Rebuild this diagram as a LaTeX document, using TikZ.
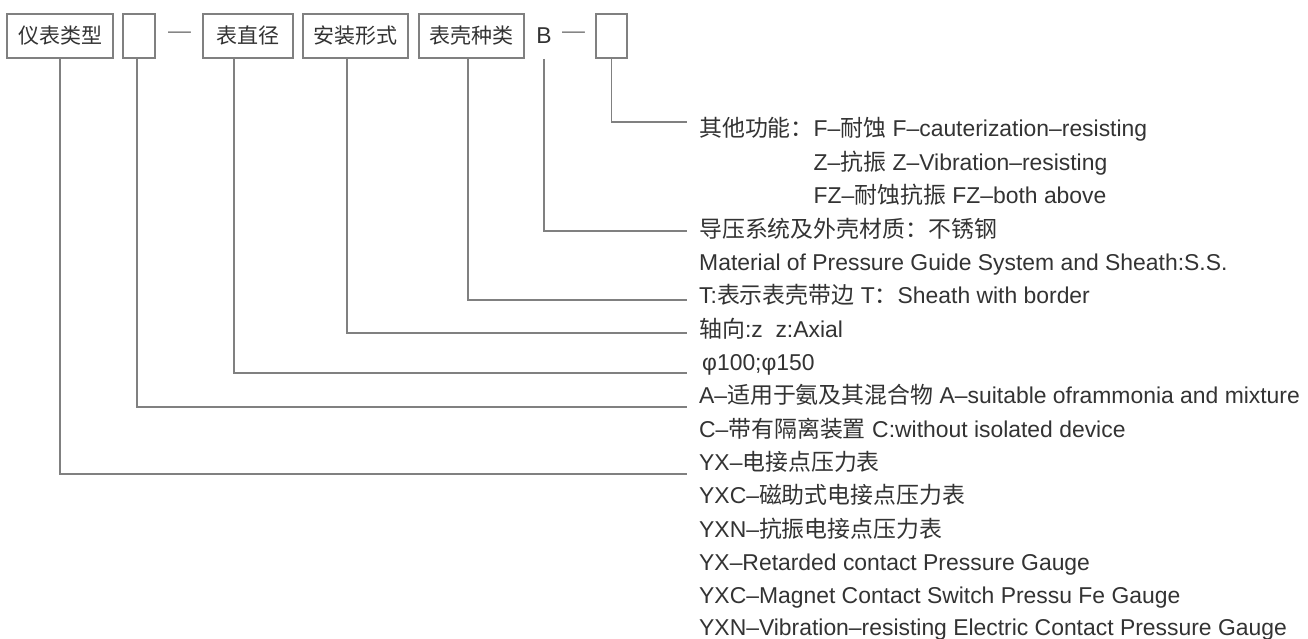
\documentclass[tikz,border=0pt]{standalone}
\usepackage{fontspec}
\setmainfont{Liberation Sans}
\newfontfamily\cjk{Noto Sans CJK SC}
\newcommand\C[1]{{\cjk #1}}
\definecolor{txt}{HTML}{333333}
\definecolor{ln}{HTML}{808080}
\begin{document}
\begin{tikzpicture}[x=1pt,y=-1pt,
  font=\fontsize{22.9}{27}\selectfont, text=txt,
  box/.style={draw=ln, line width=1.6pt, minimum height=44pt, inner sep=0pt,
    font=\cjk\fontsize{21}{21}\selectfont},
  desc/.style={anchor=base west, inner sep=0pt},
  plain/.style={inner sep=0pt},
  conn/.style={draw=ln, line width=1.3pt}]
\useasboundingbox[fill=white] (0,0) rectangle (1308,639);
% top row
\node[box, minimum width=106pt] (b1) at (60,36) {仪表类型};
\node[box, minimum width=32pt]  (b2) at (139,36) {};
\node[plain, text=ln] (d1) at (179.5,35) {—};
\node[box, minimum width=90pt]  (b3) at (248,36) {表直径};
\node[box, minimum width=105pt] (b4) at (355.5,36) {安装形式};
\node[box, minimum width=105pt] (b5) at (471.5,36) {表壳种类};
\node[plain] (bB) at (544,36) {B};
\node[plain, text=ln] (d2) at (573.5,35) {—};
\node[box, minimum width=31pt]  (b6) at (611.5,36) {};
% descriptions
\node[desc] (t0)  at (699,137)   {\C{其他功能：}F–\C{耐蚀} F–cauterization–resisting};
\node[desc] (t1)  at (813.5,170.3) {Z–\C{抗振} Z–Vibration–resisting};
\node[desc] (t2)  at (813.5,203.7) {FZ–\C{耐蚀抗振} FZ–both above};
\node[desc] (t3)  at (699,237)   {\C{导压系统及外壳材质：不锈钢}};
\node[desc] (t4)  at (699,270.3) {Material of Pressure Guide System and Sheath:S.S.};
\node[desc] (t5)  at (699,303.7) {T:\C{表示表壳带边} T\C{：}Sheath with border};
\node[desc] (t6)  at (699,337)   {\C{轴向}:z\ \ z:Axial};
\node[desc] (t7)  at (702,370.3) {φ100;φ150};
\node[desc] (t8)  at (699,403.7) {A–\C{适用于氨及其混合物} A–suitable oframmonia and mixture};
\node[desc] (t9)  at (699,437)   {C–\C{带有隔离装置} C:without isolated device};
\node[desc] (t10) at (699,470.3) {YX–\C{电接点压力表}};
\node[desc] (t11) at (699,503.7) {YXC–\C{磁助式电接点压力表}};
\node[desc] (t12) at (699,537)   {YXN–\C{抗振电接点压力表}};
\node[desc] (t13) at (699,570.3) {YX–Retarded contact Pressure Gauge};
\node[desc] (t14) at (699,603.7) {YXC–Magnet Contact Switch Pressu Fe Gauge};
\node[desc] (t15) at (699,635)   {YXN–Vibration–resisting Electric Contact Pressure Gauge};
% connector ends
\coordinate (e6) at (687,122);
\coordinate (eB) at (687,231);
\coordinate (e5) at (687,300);
\coordinate (e4) at (687,333);
\coordinate (e3) at (687,373);
\coordinate (e2) at (687,407);
\coordinate (e1) at (687,474);
% connectors
\draw[conn] (b6.south) |- (e6);
\draw[conn] (bB.south |- b5.south) |- (eB);
\draw[conn] ([xshift=-3.5pt]b5.south) |- (e5);
\draw[conn] ([xshift=-8.5pt]b4.south) |- (e4);
\draw[conn] ([xshift=-14pt]b3.south) |- (e3);
\draw[conn] ([xshift=-2pt]b2.south) |- (e2);
\draw[conn] (b1.south) |- (e1);
\end{tikzpicture}
\end{document}
